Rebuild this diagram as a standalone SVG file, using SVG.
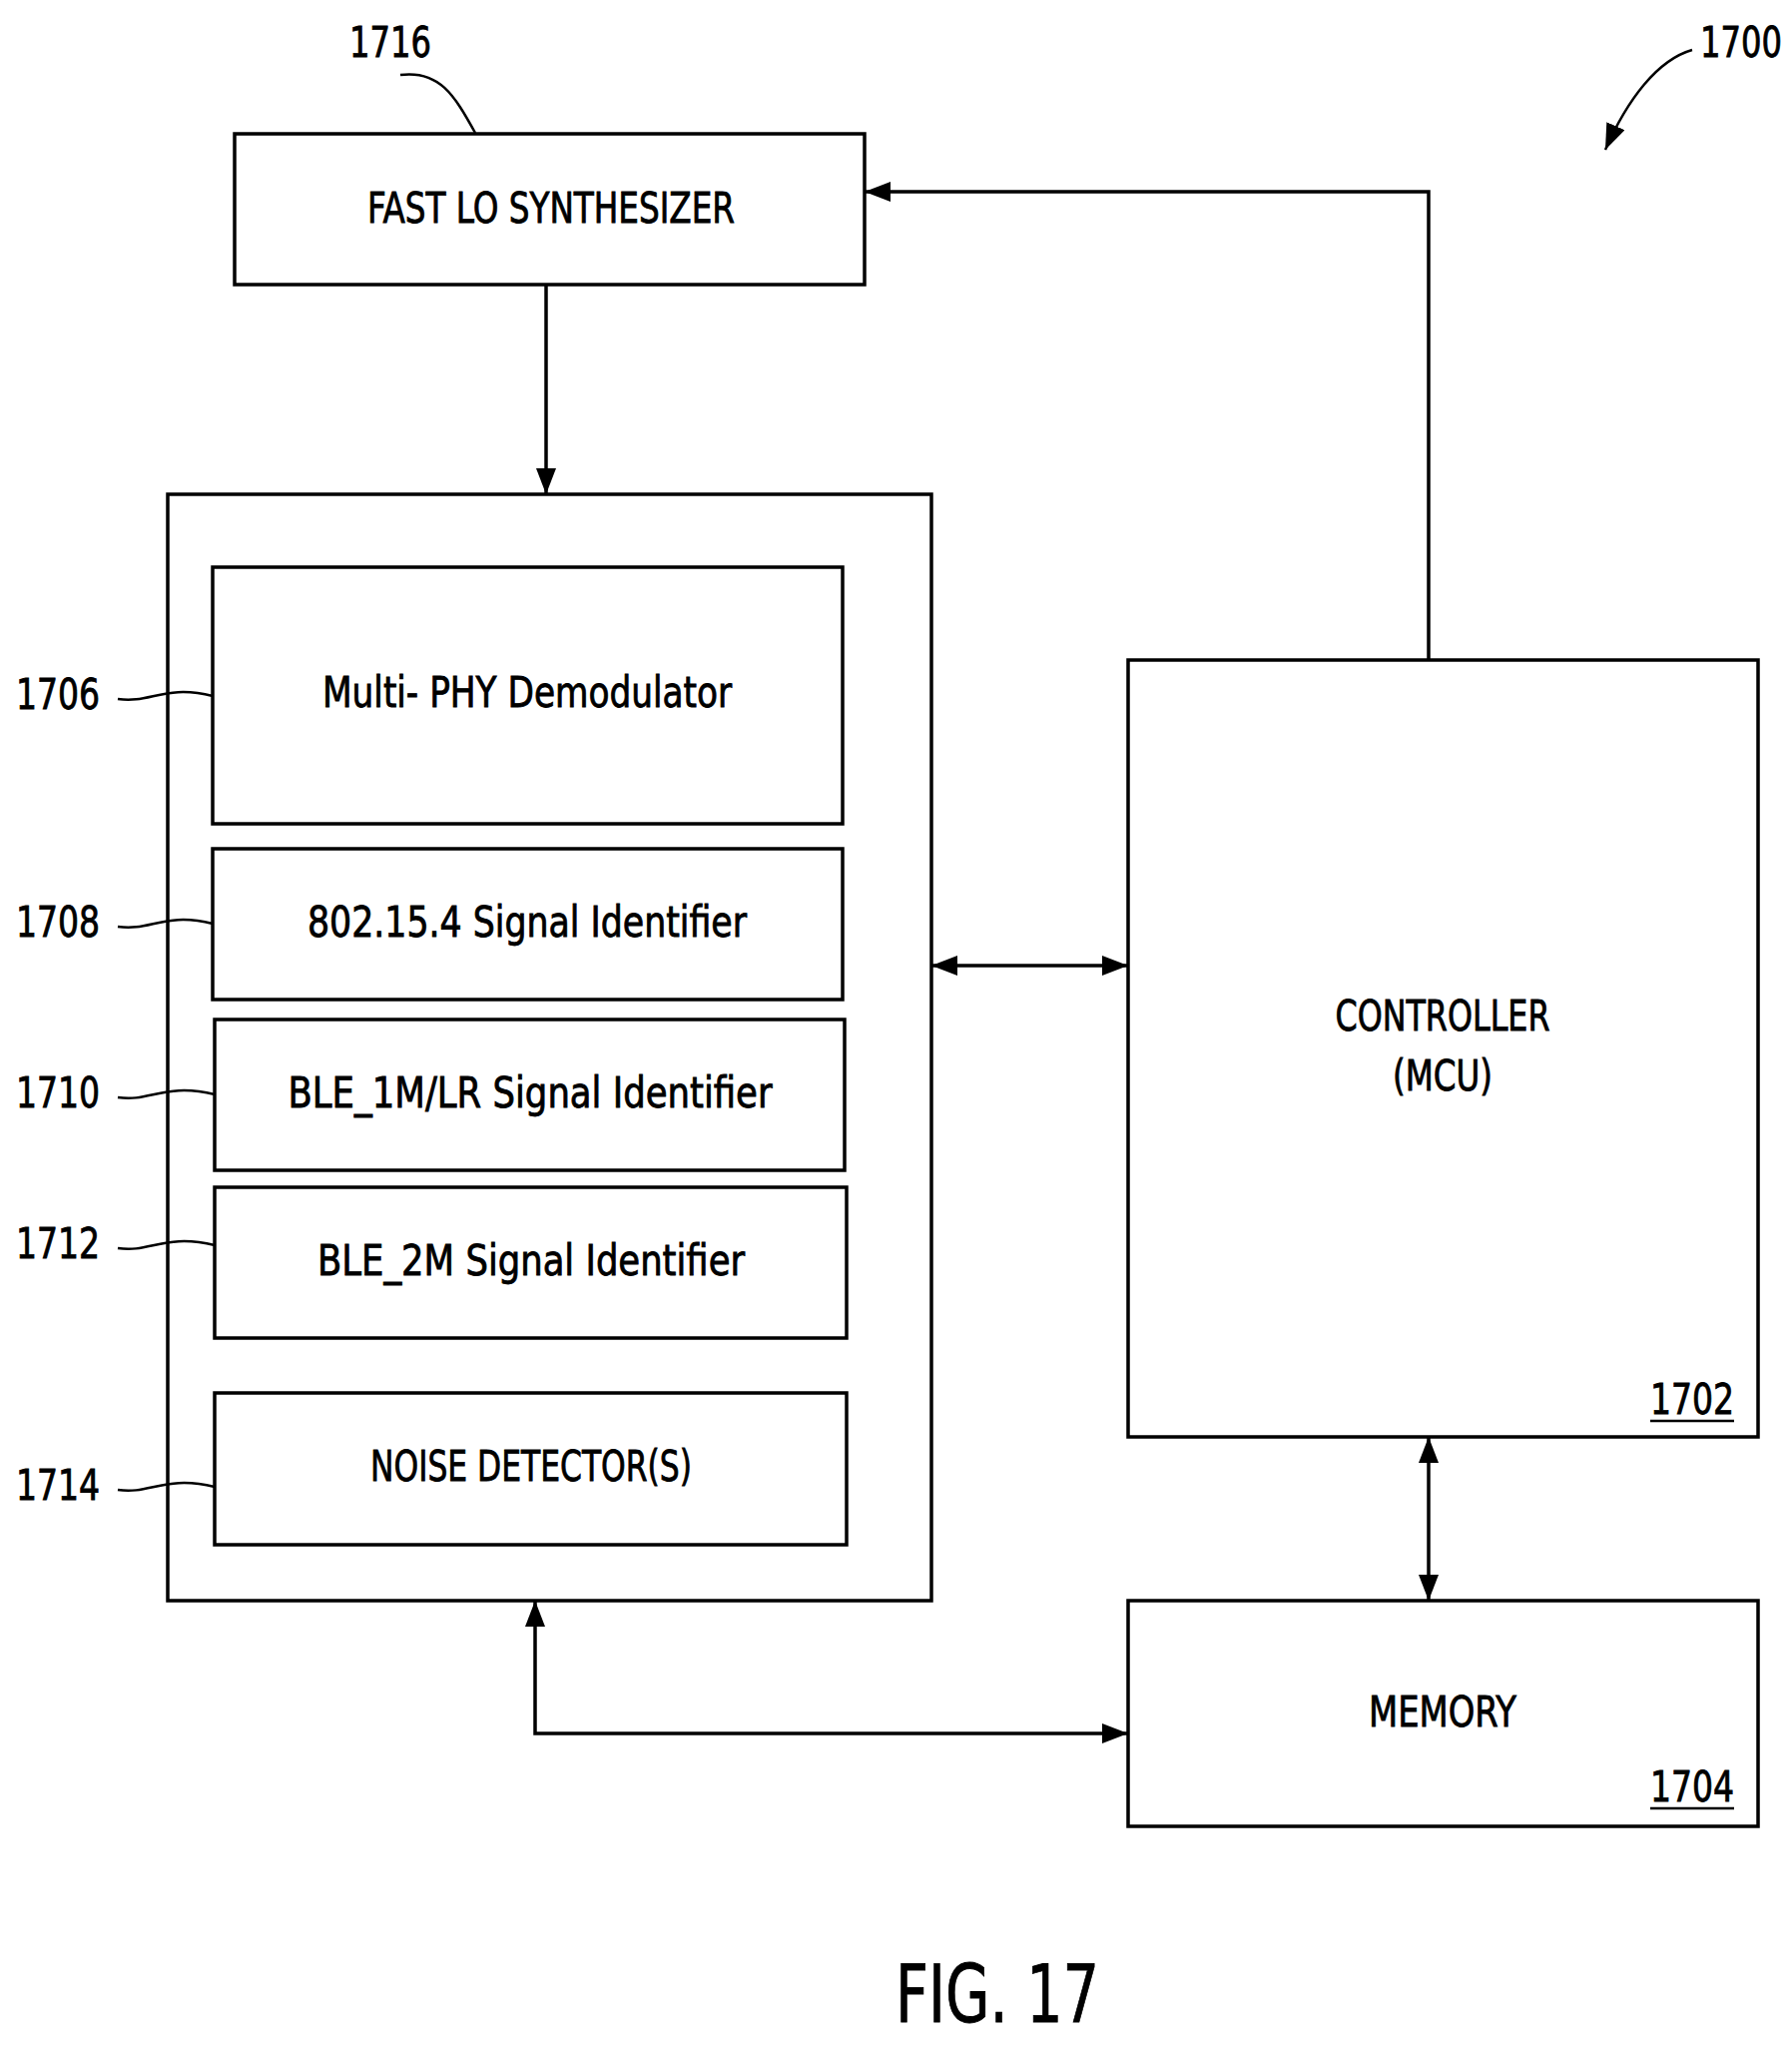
<svg xmlns="http://www.w3.org/2000/svg" width="1795" height="2051" viewBox="0 0 1795 2051">
<defs>
<marker id="ah" viewBox="0 0 10 10" refX="10" refY="5" markerWidth="26" markerHeight="20" markerUnits="userSpaceOnUse" orient="auto-start-reverse" preserveAspectRatio="none"><path d="M0,0 L10,5 L0,10 Z" fill="#000"/></marker>
<style>
rect{fill:#fff;stroke:#000;stroke-width:3.5}
.c path,.c line{fill:none;stroke:#000;stroke-width:3.5}
.ld{fill:none;stroke:#000;stroke-width:2.5}
text{font-family:"DejaVu Sans Condensed","DejaVu Sans","Liberation Sans",sans-serif;font-stretch:condensed;fill:#000;stroke:#000;stroke-width:0.8}
.t{font-size:42px;text-anchor:middle}
.n{font-size:42px}
</style>
</defs>
<rect x="0" y="0" width="1795" height="2051" style="stroke:none"/>
<g id="n1716"><rect x="235" y="134" width="631" height="151"/><text class="t" x="552" y="223" textLength="368" lengthAdjust="spacingAndGlyphs">FAST LO SYNTHESIZER</text>
<text class="n" x="350" y="57" textLength="82" lengthAdjust="spacingAndGlyphs">1716</text><path class="ld" d="M401,75 C440,70 455,95 476,133"/></g>
<g id="n1700"><text class="n" x="1703" y="57" textLength="82" lengthAdjust="spacingAndGlyphs">1700</text><path class="ld" d="M1695,50 C1660,60 1630,100 1608,150" marker-end="url(#ah)"/></g>
<g id="outer"><rect x="168" y="495" width="765" height="1108"/></g>
<g id="n1706"><rect x="213" y="568" width="631" height="257"/><text class="t" x="528" y="708" textLength="410" lengthAdjust="spacingAndGlyphs">Multi- PHY Demodulator</text>
<text class="n" x="16" y="710" textLength="84" lengthAdjust="spacingAndGlyphs">1706</text><path class="ld" d="M118,700 C150,705 165,685 213,697"/></g>
<g id="n1708"><rect x="213" y="850" width="631" height="151"/><text class="t" x="528" y="938" textLength="440" lengthAdjust="spacingAndGlyphs">802.15.4 Signal Identifier</text>
<text class="n" x="16" y="938" textLength="84" lengthAdjust="spacingAndGlyphs">1708</text><path class="ld" d="M118,928 C150,933 165,913 213,925"/></g>
<g id="n1710"><rect x="215" y="1021" width="631" height="151"/><text class="t" x="531" y="1109" textLength="485" lengthAdjust="spacingAndGlyphs">BLE_1M/LR Signal Identifier</text>
<text class="n" x="16" y="1109" textLength="84" lengthAdjust="spacingAndGlyphs">1710</text><path class="ld" d="M118,1099 C150,1104 165,1084 215,1096"/></g>
<g id="n1712"><rect x="215" y="1189" width="633" height="151"/><text class="t" x="532" y="1277" textLength="428" lengthAdjust="spacingAndGlyphs">BLE_2M Signal Identifier</text>
<text class="n" x="16" y="1260" textLength="84" lengthAdjust="spacingAndGlyphs">1712</text><path class="ld" d="M118,1250 C150,1255 165,1235 215,1247"/></g>
<g id="n1714"><rect x="215" y="1395" width="633" height="152"/><text class="t" x="532" y="1483" textLength="322" lengthAdjust="spacingAndGlyphs">NOISE DETECTOR(S)</text>
<text class="n" x="16" y="1502" textLength="84" lengthAdjust="spacingAndGlyphs">1714</text><path class="ld" d="M118,1492 C150,1497 165,1477 215,1489"/></g>
<g id="n1702"><rect x="1130" y="661" width="631" height="778"/><text class="t" x="1445" y="1032" textLength="215" lengthAdjust="spacingAndGlyphs">CONTROLLER</text><text class="t" x="1445" y="1092" textLength="100" lengthAdjust="spacingAndGlyphs">(MCU)</text>
<text class="n" x="1653" y="1416" textLength="84" lengthAdjust="spacingAndGlyphs">1702</text><line x1="1653" y1="1423" x2="1737" y2="1423" stroke="#000" stroke-width="2.5"/></g>
<g id="n1704"><rect x="1130" y="1603" width="631" height="226"/><text class="t" x="1445" y="1729" textLength="148" lengthAdjust="spacingAndGlyphs">MEMORY</text>
<text class="n" x="1653" y="1804" textLength="84" lengthAdjust="spacingAndGlyphs">1704</text><line x1="1653" y1="1811" x2="1737" y2="1811" stroke="#000" stroke-width="2.5"/></g>
<g id="connectors" class="c">
<line x1="547" y1="285" x2="547" y2="495" marker-end="url(#ah)"/>
<path d="M1431,661 V192 H866" marker-end="url(#ah)"/>
<line x1="933" y1="967" x2="1130" y2="967" marker-start="url(#ah)" marker-end="url(#ah)"/>
<line x1="1431" y1="1439" x2="1431" y2="1603" marker-start="url(#ah)" marker-end="url(#ah)"/>
<path d="M536,1603 V1736 H1130" marker-start="url(#ah)" marker-end="url(#ah)"/>
</g>
<text x="999" y="2025" style="font-size:80px;text-anchor:middle" textLength="204" lengthAdjust="spacingAndGlyphs">FIG. 17</text>
</svg>
